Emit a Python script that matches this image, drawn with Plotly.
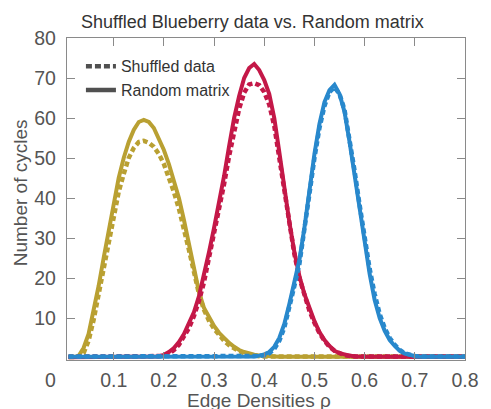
import plotly.graph_objects as go

# x grid: edge density rho, 0.01 .. 0.80
rho = [round(0.01 * k, 2) for k in range(1, 81)]

gold_random = [0.2, 0.2, 0.5, 2.5, 6, 11.5, 18, 25, 31.5, 38.5,
               45, 50, 54, 57, 59, 59.5, 59, 57.5, 55, 52,
               48.5, 44.5, 40, 34.5, 28.5, 22.5, 16.5, 12.5, 10, 8,
               6.3, 5, 3.8, 2.8, 2, 1.5, 1.1, 0.8, 0.6, 0.5] + [0.3] * 40
gold_shuffled = [0.3, 0.3, 0.3, 1.2, 4.3, 9.5, 16, 23, 29.5, 36,
                 41.5, 46, 50, 52.5, 54, 54.3, 53.8, 52.8, 51, 48.5,
                 45.3, 41.5, 37.3, 32.5, 27, 21.5, 16, 12, 9.3, 7.3,
                 5.6, 4.3, 3.2, 2.4, 1.7, 1.2, 0.9, 0.6, 0.45] + [0.35] * 41

red_random = [0.2] * 18 + [0.4, 0.8,
              1.5, 2.5, 4, 6, 8.5, 11.5, 15.5, 20.5, 26.5, 32.5,
              38.5, 45.5, 53, 60, 65.5, 70, 72.5, 73.5, 72, 69.5,
              66, 60, 51.5, 42.5, 34, 26.5, 20.5, 16, 12.3, 9.2,
              6.5, 4.5, 3, 1.8, 1.2, 0.8, 0.6, 0.4] + [0.3] * 22
red_shuffled = [0.3] * 19 + [0.5,
                1.1, 2, 3.3, 5.2, 7.5, 10.5, 14.3, 19, 24.8, 30.8,
                36.8, 43.5, 50.5, 57, 62.3, 66.3, 68.4, 68.7, 68.2, 66.5,
                63.3, 58, 50.3, 41.5, 33.2, 26, 20, 15.5, 11.8, 8.8,
                6.2, 4.3, 2.8, 1.8, 1.1, 0.7, 0.5] + [0.35] * 23

blue_random = [0.3] * 37 + [0.4, 0.6, 0.9,
               1.5, 2.8, 5, 8.5, 13.5, 19, 24.5, 32.5, 42, 51,
               58.5, 64, 67, 68.3, 66, 61.5, 54, 45.5, 37, 28.5,
               21, 14.5, 10, 6.8, 4.5, 3, 1.8, 1.1, 0.7, 0.5] + [0.3] * 10
blue_shuffled = [0.35] * 38 + [0.5, 0.7,
                 1.2, 2.3, 4.3, 7.6, 12.5, 18, 23.5, 31.5, 41, 50,
                 57.5, 63, 66.5, 67.7, 66, 62, 55, 46.8, 38.3, 29.8,
                 22.3, 16, 11, 7.5, 5, 3.3, 2, 1.2, 0.8, 0.5] + [0.35] * 10

x_ticks = [0.1, 0.2, 0.3, 0.4, 0.5, 0.6, 0.7, 0.8]
x_tick_labels = ["0.1", "0.2", "0.3", "0.4", "0.5", "0.6", "0.7", "0.8"]
y_ticks = [10, 20, 30, 40, 50, 60, 70, 80]
y_tick_labels = ["10", "20", "30", "40", "50", "60", "70", "80"]

GOLD = "#B9A032"
RED = "#C41848"
BLUE = "#2888CC"
DOT = "5px,3px"
FONT = "Liberation Sans, Arial, sans-serif"

fig = go.Figure()
series = [(gold_random, gold_shuffled, GOLD),
          (red_random, red_shuffled, RED),
          (blue_random, blue_shuffled, BLUE)]
for rnd, shf, col in series:
    fig.add_trace(go.Scatter(x=rho, y=rnd, mode="lines", showlegend=False,
                             line=dict(color=col, width=4)))
    fig.add_trace(go.Scatter(x=rho, y=shf, mode="lines", showlegend=False,
                             line=dict(color=col, width=4.5, dash=DOT)))

# legend entries
fig.add_trace(go.Scatter(x=[None], y=[None], mode="lines", name="Shuffled data",
                         line=dict(color="#505050", width=4.5, dash="6px,3px")))
fig.add_trace(go.Scatter(x=[None], y=[None], mode="lines", name="Random matrix",
                         line=dict(color="#505050", width=4.5)))

axis_common = dict(showline=True, linecolor="#8a8a8a", linewidth=1.3,
                   mirror="ticks", ticks="inside", ticklen=8, tickcolor="#8a8a8a",
                   tickwidth=1, showgrid=False, zeroline=False,
                   tickfont=dict(family=FONT, size=19.5, color="#555555"))

fig.update_layout(
    width=491, height=409,
    margin=dict(l=67, r=15, t=38, b=49),
    paper_bgcolor="white", plot_bgcolor="white",
    xaxis=dict(range=[0.007, 0.8], tickvals=x_ticks, ticktext=x_tick_labels,
               ticklabelstandoff=2, **axis_common),
    yaxis=dict(range=[-0.5, 80], tickvals=y_ticks, ticktext=y_tick_labels,
               ticklabelstandoff=6, **axis_common),
    legend=dict(x=0.035, y=0.965, xanchor="left", yanchor="top",
                bgcolor="rgba(0,0,0,0)", font=dict(family=FONT, size=16, color="#333333"),
                tracegroupgap=0, itemwidth=30),
    annotations=[
        dict(text="Shuffled Blueberry data vs. Random matrix", xref="paper", yref="paper",
             x=(258 - 67) / 409, y=(360 - 22) / 322, xanchor="center", yanchor="middle",
             showarrow=False, font=dict(family=FONT, size=18, color="#333333")),
        dict(text="Edge Densities ρ", xref="paper", yref="paper",
             x=(264 - 67) / 409, y=(360 - 400) / 322, xanchor="center", yanchor="middle",
             showarrow=False, font=dict(family=FONT, size=19, color="#555555")),
        dict(text="Number of cycles", xref="paper", yref="paper", textangle=-90,
             x=(19 - 67) / 409, y=(360 - 193) / 322, xanchor="center", yanchor="middle",
             showarrow=False, font=dict(family=FONT, size=19, color="#555555")),
        dict(text="0", xref="paper", yref="paper",
             x=(50 - 67) / 409, y=(360 - 380) / 322, xanchor="center", yanchor="middle",
             showarrow=False, font=dict(family=FONT, size=19.5, color="#555555")),
    ],
)

fig.write_html("out.html")
